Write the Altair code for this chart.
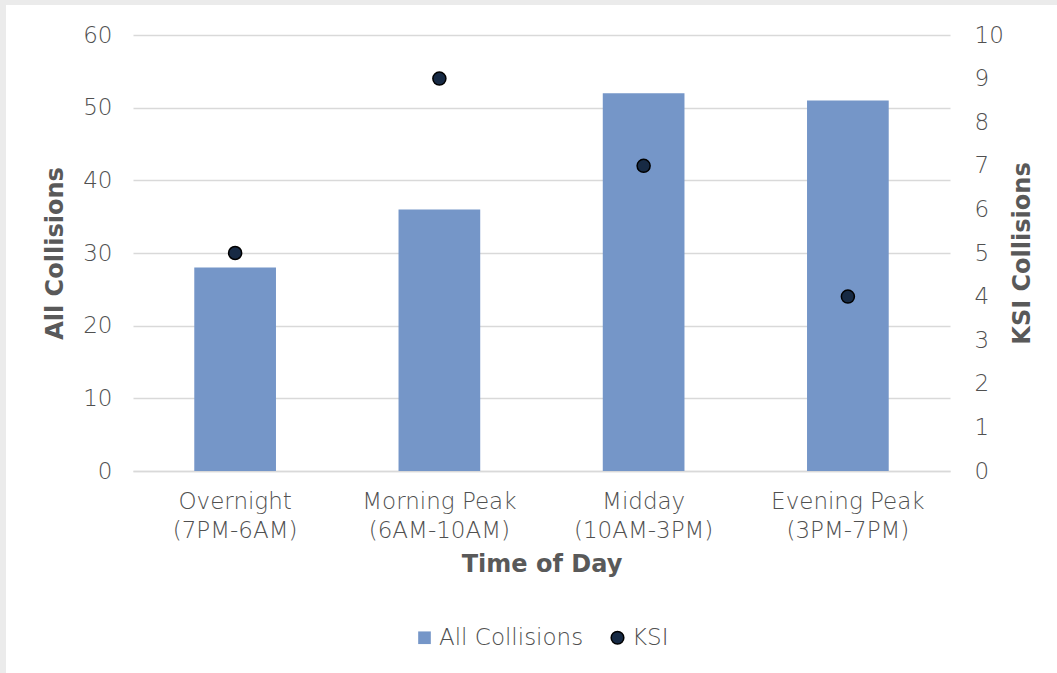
import altair as alt
import pandas as pd

# Collisions by time of day
periods = [
    "Overnight\n(7PM-6AM)",
    "Morning Peak\n(6AM-10AM)",
    "Midday\n(10AM-3PM)",
    "Evening Peak\n(3PM-7PM)",
]
all_collisions = [28, 36, 52, 51]
ksi_collisions = [5, 9, 7, 4]

series_names = ["All Collisions", "KSI"]
series_colors = ["#7596C8", "#172A44"]

FONT = "DejaVu Sans"
TEXT = "#505050"
TITLE_COLOR = "#595959"
GRID = "#D9D9D9"
LABEL_SIZE = 23
LABEL_WEIGHT = 300
TITLE_SIZE = 24

df = pd.DataFrame({
    "period": periods,
    "all": all_collisions,
    "ksi": ksi_collisions,
    "s_all": series_names[0],
    "s_ksi": series_names[1],
})

x_enc = alt.X(
    "period:N",
    sort=periods,
    scale=alt.Scale(paddingInner=0, paddingOuter=0),
    axis=alt.Axis(
        title="Time of Day",
        labelExpr="split(datum.label, '\\n')",
        labelAngle=0,
        labelFontSize=LABEL_SIZE,
        labelFontWeight=LABEL_WEIGHT,
        labelLineHeight=29,
        labelPadding=19,
        labelColor=TEXT,
        labelFont=FONT,
        ticks=False,
        domain=True,
        domainColor=GRID,
        domainWidth=1.5,
        titleFont=FONT,
        titleFontSize=TITLE_SIZE,
        titleFontWeight="bold",
        titleColor=TITLE_COLOR,
        titlePadding=10,
    ),
)

color_enc = lambda field: alt.Color(
    f"{field}:N",
    scale=alt.Scale(domain=series_names, range=series_colors),
    legend=alt.Legend(
        title=None,
        orient="none",
        direction="horizontal",
        legendX=280,
        legendY=591,
        labelFont=FONT,
        labelFontSize=LABEL_SIZE,
        labelFontWeight=LABEL_WEIGHT,
        labelColor=TEXT,
        symbolSize=160,
        columnPadding=22,
        labelOffset=3,
        symbolStrokeColor="black",
        symbolStrokeWidth=alt.ExprRef("datum.value === 'KSI' ? 1.5 : 0"),
    ),
)

shape_scale = alt.Scale(domain=series_names, range=["square", "circle"])

bars = alt.Chart(df).mark_bar(width=alt.RelativeBandSize(0.4)).encode(
    x=x_enc,
    y=alt.Y(
        "all:Q",
        scale=alt.Scale(domain=[0, 60]),
        axis=alt.Axis(
            title="All Collisions",
            values=[0, 10, 20, 30, 40, 50, 60],
            grid=True,
            gridColor=GRID,
            gridWidth=1.5,
            domain=False,
            ticks=False,
            labelFont=FONT,
            labelFontSize=LABEL_SIZE,
            labelFontWeight=LABEL_WEIGHT,
            labelColor=TEXT,
            labelPadding=21,
            titleFont=FONT,
            titleFontSize=TITLE_SIZE,
            titleFontWeight="bold",
            titleColor=TITLE_COLOR,
            titlePadding=15,
        ),
    ),
    color=color_enc("s_all"),
    shape=alt.Shape("s_all:N", scale=shape_scale),
)

points = alt.Chart(df).mark_point(
    filled=True, size=170, stroke="black", strokeWidth=1.5, opacity=1
).encode(
    x=x_enc,
    y=alt.Y(
        "ksi:Q",
        scale=alt.Scale(domain=[0, 10]),
        axis=alt.Axis(
            title="KSI Collisions",
            orient="right",
            values=list(range(0, 11)),
            grid=False,
            domain=False,
            ticks=False,
            labelFont=FONT,
            labelFontSize=LABEL_SIZE,
            labelFontWeight=LABEL_WEIGHT,
            labelColor=TEXT,
            labelPadding=24,
            titleFont=FONT,
            titleFontSize=TITLE_SIZE,
            titleFontWeight="bold",
            titleColor=TITLE_COLOR,
            titleAngle=270,
            titlePadding=31,
        ),
    ),
    color=color_enc("s_ksi"),
    shape=alt.Shape("s_ksi:N", scale=shape_scale),
)

# thin grey frame along the top and left edges of the canvas
frame_top = alt.Chart(df).mark_rect(color="#EBEBEB").encode(
    x=alt.value(-133), x2=alt.value(924), y=alt.value(-35), y2=alt.value(-30)
)
frame_left = alt.Chart(df).mark_rect(color="#EBEBEB").encode(
    x=alt.value(-133), x2=alt.value(-127), y=alt.value(-35), y2=alt.value(638)
)

chart = (
    alt.layer(bars, points, frame_top, frame_left)
    .resolve_scale(y="independent")
    .properties(
        width=817,
        height=436,
        autosize=alt.AutoSizeParams(type="none"),
        padding={"left": 133, "top": 35, "right": 107, "bottom": 202},
        background="white",
    )
    .configure_view(stroke=None)
)

chart.save("out.html", embed_options={"renderer": "svg", "actions": False})
